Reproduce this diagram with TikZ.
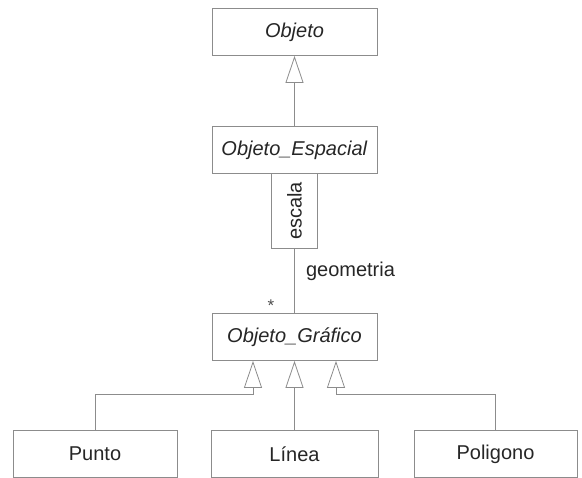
\documentclass[tikz,border=0pt]{standalone}
\usepackage{fontspec}
\setmainfont{Liberation Sans}
\usetikzlibrary{
    arrows.meta,
    calc,
    positioning
}

\begin{document}
\begin{tikzpicture}[x=1pt, y=-1pt,
    clase/.style={draw=black!45, line width=0.8pt, minimum width=165pt,
        minimum height=47pt, inner sep=0pt, text=black!85,
        font=\fontsize{20}{24}\selectfont},
    linea/.style={draw=black!45, line width=0.8pt},
    herencia/.style={linea, -{Triangle[open, length=27pt, width=18pt]}}
]
\useasboundingbox (0, 0) rectangle (582, 478);
\node[clase] (objeto) at (294.5, 32) {\textit{Objeto}};
\node[clase] (espacial) at (294.5, 150) {\textit{Objeto\_Espacial}};
\node[clase, rotate=90, minimum width=75pt, minimum height=46pt] (escala)
    at (294.5, 211) {escala};
\node[clase] (grafico) at (294.5, 337) {\textit{Objeto\_Gráfico}};
\node[clase, minimum width=164pt] (punto) at (95, 454) {Punto};
\node[clase, minimum width=167pt] (lin) at (294.5, 454) {Línea};
\node[clase, minimum width=163pt] (poligono) at (495.5, 454) {Poligono};
\node[text=black!85, font=\fontsize{20}{24}\selectfont] (geometria)
    at (350.5, 271) {geometria};
\node[text=black!70, font=\fontsize{17}{18}\selectfont] (mult)
    at (271, 306) {*};
\coordinate (ta) at ($(grafico.south) + (-41.5, 0)$);
\coordinate (tc) at ($(grafico.south) + (41.5, 0)$);
\coordinate (codoa) at ($(ta) + (0, 33.5)$);
\coordinate (codoc) at ($(tc) + (0, 33.5)$);
\draw
    (espacial) edge[herencia] (objeto)
    (escala) edge[linea] (grafico)
    (lin) edge[herencia] (grafico);
\draw[herencia] (punto) |- (codoa) -- (ta);
\draw[herencia] (poligono) |- (codoc) -- (tc);
\end{tikzpicture}
\end{document}
